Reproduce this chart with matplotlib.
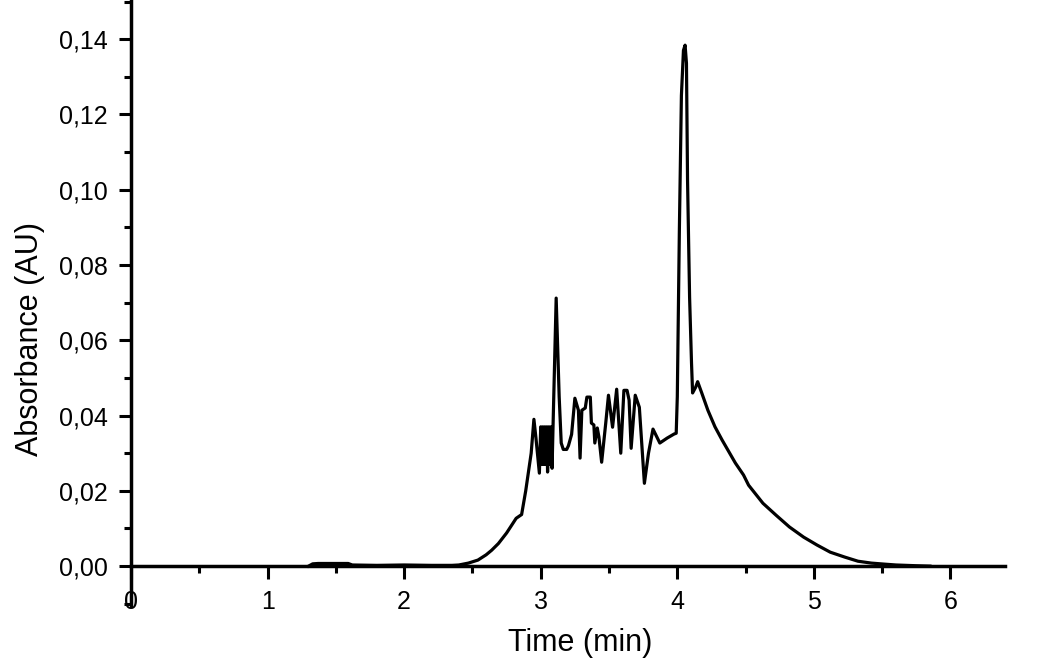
import matplotlib
matplotlib.use("Agg")
import matplotlib.pyplot as plt
from matplotlib.ticker import MultipleLocator, FixedLocator

# chromatogram trace (time in min, absorbance in AU)
time = [1.30, 1.33, 1.37, 1.59, 1.62, 1.80, 2.00, 2.20, 2.35, 2.40, 2.47, 2.54,
        2.60, 2.64, 2.69, 2.75, 2.82, 2.86, 2.89, 2.93, 2.95, 2.965, 2.99,
        3.000, 3.005, 3.015, 3.020, 3.030, 3.035, 3.045, 3.050, 3.060, 3.065,
        3.075, 3.083, 3.090, 3.113, 3.135, 3.150, 3.165, 3.190, 3.203, 3.226,
        3.250, 3.276, 3.288, 3.301, 3.326, 3.338, 3.363, 3.371, 3.389, 3.396,
        3.414, 3.426, 3.446, 3.476, 3.496, 3.526, 3.556, 3.586, 3.609, 3.632,
        3.647, 3.662, 3.692, 3.722, 3.759, 3.789, 3.822, 3.872, 3.925, 3.977,
        3.992, 4.000, 4.015, 4.030, 4.045, 4.057, 4.067, 4.075, 4.090, 4.104,
        4.112, 4.134, 4.149, 4.179, 4.224, 4.276, 4.328, 4.425, 4.485, 4.522,
        4.627, 4.724, 4.821, 4.925, 5.023, 5.120, 5.226, 5.323, 5.421, 5.526,
        5.601, 5.750, 5.850]
absorbance = [0.0000, 0.0006, 0.0007, 0.0007, 0.0003, 0.0002, 0.0003, 0.0002,
              0.0002, 0.0003, 0.0008, 0.0016, 0.0030, 0.0042, 0.0060, 0.0088,
              0.0127, 0.0137, 0.0200, 0.0300, 0.0390, 0.0340, 0.0247,
              0.0370, 0.0270, 0.0370, 0.0270, 0.0370, 0.0270, 0.0370, 0.0250,
              0.0370, 0.0270, 0.0370, 0.0260, 0.0370, 0.0712, 0.0450, 0.0327,
              0.0310, 0.0310, 0.0320, 0.0350, 0.0446, 0.0414, 0.0287, 0.0414,
              0.0420, 0.0449, 0.0449, 0.0380, 0.0375, 0.0327, 0.0367, 0.0343,
              0.0276, 0.0380, 0.0454, 0.0369, 0.0470, 0.0300, 0.0467, 0.0467,
              0.0441, 0.0313, 0.0454, 0.0422, 0.0220, 0.0300, 0.0364, 0.0327,
              0.0340, 0.0351, 0.0353, 0.0450, 0.0890, 0.1250, 0.1370, 0.1384,
              0.1336, 0.1025, 0.0714, 0.0540, 0.0460, 0.0475, 0.0490, 0.0460,
              0.0414, 0.0370, 0.0335, 0.0274, 0.0242, 0.0215, 0.0167, 0.0135,
              0.0104, 0.0077, 0.0056, 0.0037, 0.0024, 0.0013, 0.0008, 0.0005,
              0.0003, 0.0001, 0.0000]

x_ticks = [0, 1, 2, 3, 4, 5, 6]
x_labels = ["0", "1", "2", "3", "4", "5", "6"]
y_ticks = [0.00, 0.02, 0.04, 0.06, 0.08, 0.10, 0.12, 0.14]
y_labels = ["0,00", "0,02", "0,04", "0,06", "0,08", "0,10", "0,12", "0,14"]

plt.rcParams['font.family'] = ['Liberation Sans', 'DejaVu Sans']

fig = plt.figure(figsize=(10.5, 6.72), dpi=100)
ax = fig.add_axes([0.1248, 0.0982, 0.8324, 0.9018])

ax.plot(time, absorbance, color='black', linewidth=2.3,
        solid_joinstyle='round')

ax.set_xlim(0, 6.4)
ax.set_ylim(-0.0106, 0.1504)

ax.spines['top'].set_visible(False)
ax.spines['right'].set_visible(False)
ax.spines['bottom'].set_position(('data', 0))
ax.spines['bottom'].set_linewidth(2.5)
ax.spines['left'].set_linewidth(2.5)

ax.xaxis.set_major_locator(FixedLocator(x_ticks))
ax.set_xticklabels(x_labels)
ax.xaxis.set_minor_locator(MultipleLocator(0.5))
ax.yaxis.set_major_locator(FixedLocator(y_ticks))
ax.set_yticklabels(y_labels)
ax.yaxis.set_minor_locator(MultipleLocator(0.01))

ax.tick_params(which='major', direction='out', length=9, width=2.2,
               labelsize=18, pad=8)
ax.tick_params(which='minor', direction='out', length=5, width=2.2)

ax.set_xlabel('Time (min)', fontsize=22)
ax.set_ylabel('Absorbance (AU)', fontsize=22)
ax.xaxis.set_label_coords(0.514, -0.036)
ax.yaxis.set_label_coords(-0.098, 0.44)

fig.savefig('out.png', dpi=100)
